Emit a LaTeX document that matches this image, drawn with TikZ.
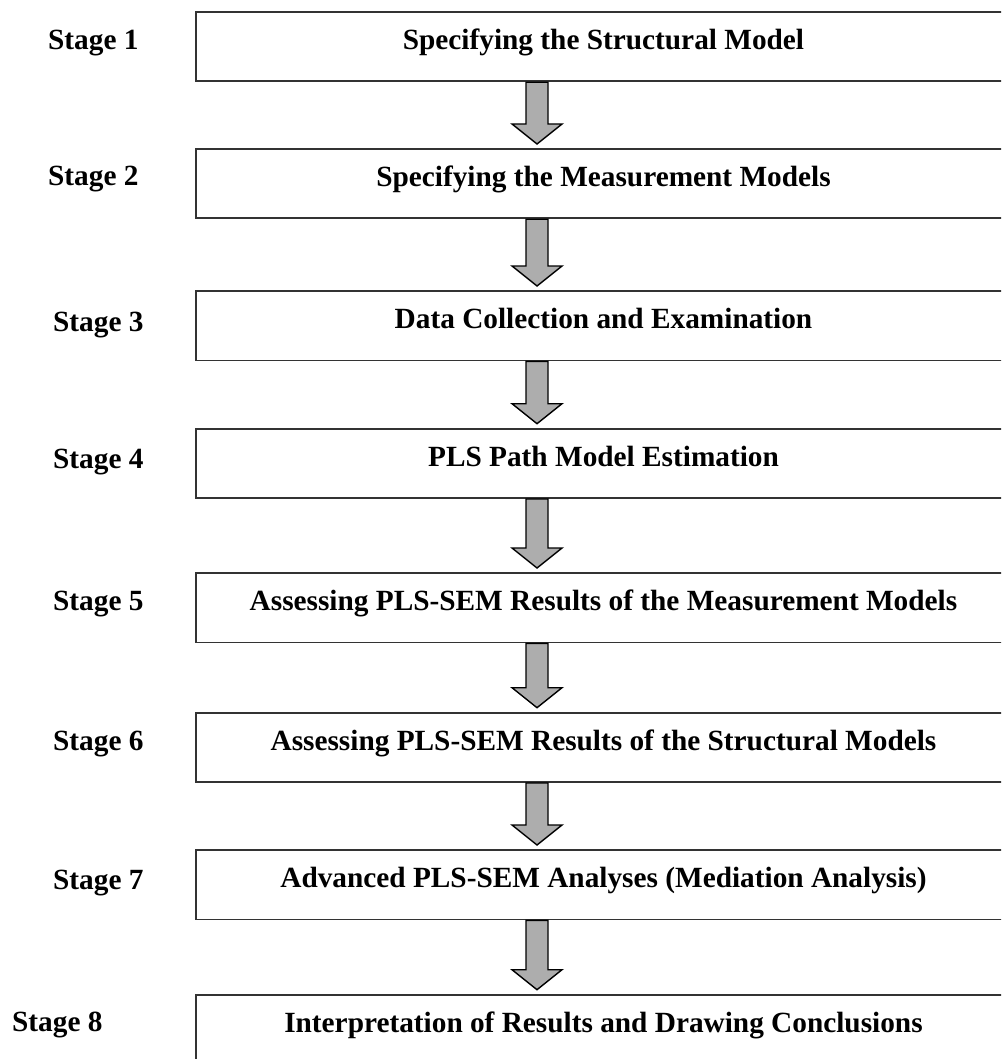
\documentclass[tikz,border=0pt]{standalone}
\usepackage{fontspec}
\setmainfont{Liberation Serif}
\usetikzlibrary{calc}
\begin{document}
\begin{tikzpicture}[x=1pt,y=-1pt,
  stagebox/.style={draw=black!80,line width=1.8pt,minimum width=815pt,inner xsep=0pt,inner ysep=0pt,
    text height=37.5pt,text depth=32pt,minimum height=69.5pt,anchor=north,
    font=\bfseries\fontsize{29.3}{35}\selectfont},
  stagelabel/.style={anchor=base west,inner sep=0pt,font=\bfseries\fontsize{29.3}{35}\selectfont},
  arrowst/.style={draw=black,line width=1.4pt,fill=black!32,line join=miter}]
\clip (0,0) rectangle (1001,1059);
\fill[white] (0,0) rectangle (1001,1059);
\node[stagebox] (b1) at (603.5,11) {Specifying the Structural Model};
\node[stagebox] (b2) at (603.5,148) {Specifying the Measurement Models};
\node[stagebox] (b3) at (603.5,290) {Data Collection and Examination};
\node[stagebox] (b4) at (603.5,427.7) {PLS Path Model Estimation};
\node[stagebox] (b5) at (603.5,572) {Assessing PLS-SEM Results of the Measurement Models};
\node[stagebox] (b6) at (603.5,711.7) {Assessing PLS-SEM Results of the Structural Models};
\node[stagebox] (b7) at (603.5,849) {Advanced PLS-SEM Analyses (Mediation Analysis)};
\node[stagebox] (b8) at (603.5,993.7) {Interpretation of Results and Drawing Conclusions};
\node[stagelabel] (s1) at (48,50) {Stage 1};
\node[stagelabel] (s2) at (48,186) {Stage 2};
\node[stagelabel] (s3) at (53,331) {Stage 3};
\node[stagelabel] (s4) at (53,468) {Stage 4};
\node[stagelabel] (s5) at (53,610) {Stage 5};
\node[stagelabel] (s6) at (53,750.7) {Stage 6};
\node[stagelabel] (s7) at (53,889) {Stage 7};
\node[stagelabel] (s8) at (12,1031.7) {Stage 8};
\foreach \a/\b in {b1/b2,b2/b3,b3/b4,b4/b5,b5/b6,b6/b7,b7/b8}{
  \draw[arrowst] let \p1=(\a.south), \p2=(\b.north) in
    (526pt,\y1) -- (526pt,\y2+24pt) -- (512pt,\y2+24pt) -- (537pt,\y2+4pt)
    -- (562pt,\y2+24pt) -- (548pt,\y2+24pt) -- (548pt,\y1) -- cycle;
}
\end{tikzpicture}
\end{document}
